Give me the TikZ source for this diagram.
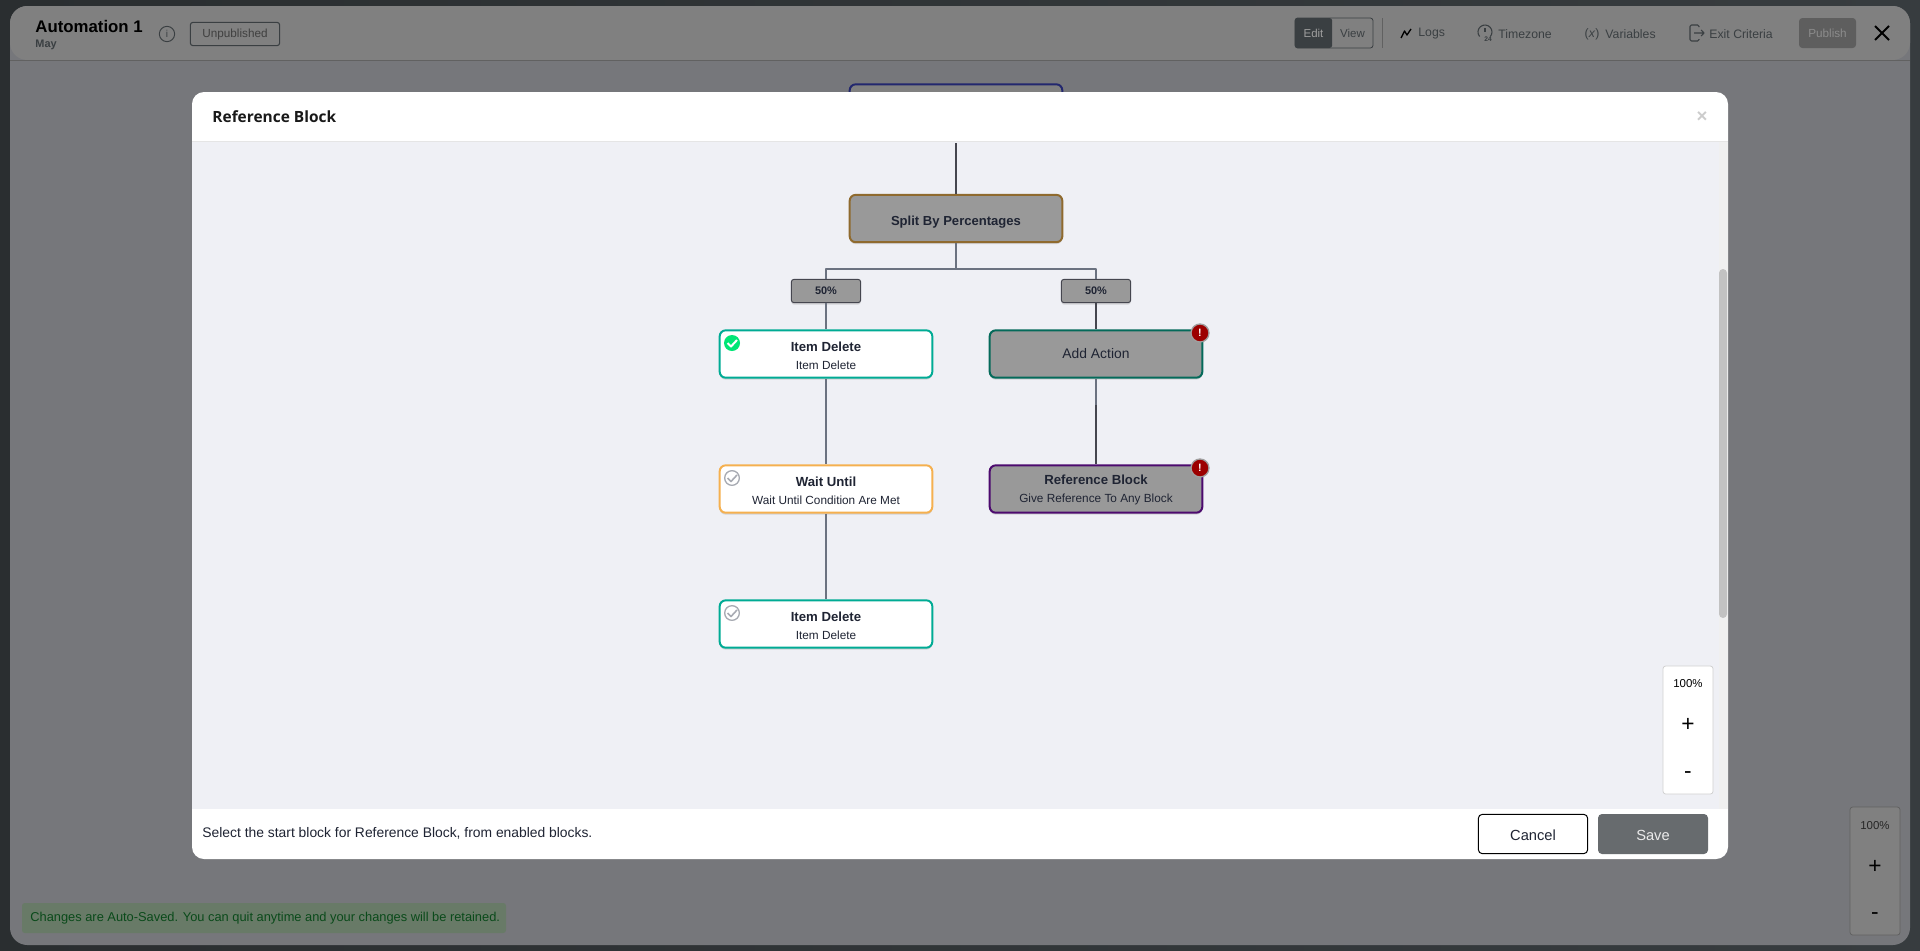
\documentclass[tikz,border=0pt]{standalone}
\usepackage{fontspec}
\setmainfont{Liberation Sans}
\newfontfamily\titlefont{Open Sans}
\usetikzlibrary{shadows}

% sizes are given in pixels of the screen, 1px = .75pt
\newcommand{\blocktext}[2]{\rule{0pt}{9.2pt}{\bfseries\fontsize{9.9}{13.5}\selectfont #1}\\{\fontsize{8.85}{13.5}\selectfont #2}}
\definecolor{inkc}{HTML}{1F2433}
\definecolor{linkc}{HTML}{6B7280}
\definecolor{linkdark}{HTML}{45464F}
\definecolor{offc}{HTML}{999999}
\definecolor{barc}{HTML}{808080}
\definecolor{maskc}{HTML}{76777B}
\definecolor{toolc}{HTML}{3A3F42}
\definecolor{canvasc}{HTML}{EFF0F5}
\definecolor{savec}{HTML}{676B6E}
\definecolor{splitc}{HTML}{8F6A2E}
\definecolor{itemc}{HTML}{00AB94}
\definecolor{waitc}{HTML}{F5B04F}
\definecolor{addc}{HTML}{046A5A}
\definecolor{refc}{HTML}{4C0A6E}
\definecolor{firstc}{HTML}{22276E}
\definecolor{doneg}{HTML}{00E676}
\definecolor{todog}{HTML}{A8ABB3}
\definecolor{warnr}{HTML}{9C0000}
\definecolor{warng}{HTML}{A0A0A0}
\definecolor{darkl}{HTML}{2A2E30}
\definecolor{darkr}{HTML}{373C3F}
\definecolor{toastc}{HTML}{687A67}
\definecolor{toastt}{HTML}{0A4A1A}

\begin{document}
\begin{tikzpicture}[x=.75pt,y=-.75pt,line join=round,node distance=101.25pt,semithick]
          \tikzstyle{block}=[draw,rounded corners=4.5pt,line width=1.5pt,minimum width=159.5pt,minimum height=35.5pt,inner sep=0pt,align=center,text=inkc,font=\fontsize{10}{13.5}\selectfont,
                             drop shadow={shadow xshift=0pt,shadow yshift=-1.5pt,opacity=.25}]
          \tikzstyle{live}=[block,fill=white]
          \tikzstyle{off}=[block,fill=offc]
          \tikzstyle{pct}=[draw=linkdark,fill=offc,rounded corners=2pt,line width=.75pt,minimum width=52pt,minimum height=17.5pt,inner sep=0pt,text=inkc,font=\fontsize{8.2}{10}\selectfont\bfseries,
                           drop shadow={shadow xshift=0pt,shadow yshift=-1.5pt,opacity=.25}]
          \tikzstyle{link}=[draw=linkc,line width=1.3pt]
          \tikzstyle{linkd}=[draw=linkdark,line width=1.3pt]
          \tikzstyle{tool}=[anchor=west,inner sep=0pt,text=toolc,font=\fontsize{9.2}{11}\selectfont]
          \tikzstyle{done}=[circle,fill=doneg,minimum size=12pt,inner sep=0pt]
          \tikzstyle{todo}=[circle,draw=todog,line width=1pt,fill=white,minimum size=11pt,inner sep=0pt]
          \tikzstyle{warn}=[circle,fill=warnr,draw=warng,line width=1pt,text=white,minimum size=13.5pt,inner sep=0pt,font=\fontsize{8}{9}\selectfont\bfseries]
          \tikzstyle{zoombox}=[rounded corners=2pt,line width=.6pt,minimum width=37.5pt,minimum height=96pt,inner sep=0pt]
          \tikzstyle{zoomsign}=[inner sep=0pt,text=black,font=\fontsize{17}{18}\selectfont]

          % page behind the dialog
          \useasboundingbox (0,0) rectangle (1920,950);
          \fill[left color=darkl,right color=darkr] (0,0) rectangle (1920,950);
          \fill[maskc,rounded corners=13pt] (10,6) rectangle (1910,945);
          \fill[barc,rounded corners=13pt] (10,60) -- (10,6) -- (1910,6) -- (1910,60) -- cycle;
          \draw[black!62,line width=.75pt] (10,60) -- (1910,60);
          \node[anchor=west,inner sep=0pt,text=black,font=\fontsize{12.6}{14}\selectfont\bfseries] (name) at (35,26) {Automation 1};
          \node[anchor=west,inner sep=0pt,text=toolc,font=\fontsize{8.2}{10}\selectfont\bfseries] (month) at (35,45) {May};
          \node[circle,draw=toolc,line width=.7pt,minimum size=11.5pt,inner sep=0pt,text=toolc,font=\fontsize{7.5}{8}\selectfont] (info) at (167,34) {i};
          \node[draw=toolc,rounded corners=2pt,line width=.8pt,minimum width=67pt,minimum height=17.5pt,inner sep=0pt,text=black!75,font=\fontsize{8.8}{10}\selectfont] (state) at (235,34) {Unpublished};
          \node[draw=toolc,minimum width=58.5pt,minimum height=22.5pt,inner sep=0pt,rounded corners=2pt] (switch) at (1334,33) {};
          \node[fill=toolc,minimum width=28pt,minimum height=22.5pt,inner sep=0pt,rounded corners=2pt,text=black!38,font=\fontsize{8.6}{10}\selectfont] (edit) at (1313.5,33) {Edit};
          \node[inner sep=0pt,text=toolc,font=\fontsize{8.6}{10}\selectfont] (view) at (1352.5,33) {View};
          \draw[black!62,line width=.6pt] (1382,18) -- (1382,48);
          \node[tool] (logs) at (1418,34) {Logs};
          \draw[black,line width=1pt] (1401,38) -- (1404.5,31) -- (1407,35) -- (1411,29);
          \node[tool] (zone) at (1498,34) {Timezone};
          \draw[toolc,line width=.8pt] (1479.6,36.5) arc (140:400:7);
          \draw[toolc,line width=.8pt] (1485,28) -- (1485,32);
          \node[inner sep=0pt,text=toolc,font=\fontsize{5}{5}\selectfont\bfseries] (hours) at (1488,39) {24};
          \node[tool] (vars) at (1605,34) {Variables};
          \node[inner sep=0pt,text=toolc,font=\fontsize{9.2}{11}\selectfont] (varsign) at (1592,34) {(\textit{x})};
          \node[tool] (exit) at (1709,34) {Exit Criteria};
          \draw[toolc,line width=.8pt,rounded corners=1pt] (1699,27) -- (1699,25) -- (1690,25) -- (1690,41) -- (1699,41) -- (1699,39);
          \draw[toolc,line width=.8pt] (1694,33) -- (1704,33) (1701,30) -- (1704,33) -- (1701,36);
          \node[fill=black!63,rounded corners=2.5pt,minimum width=42.75pt,minimum height=22.5pt,inner sep=0pt,text=black!45,font=\fontsize{8.8}{10}\selectfont] (publish) at (1827.5,33) {Publish};
          \draw[black,line width=1.4pt] (1875,26) -- (1889,40) (1889,26) -- (1875,40);
          \node[draw=black!62,zoombox,fill=barc] (zoomout) at (1875,871) {};
          \node[inner sep=0pt,text=black!85,font=\fontsize{8.6}{10}\selectfont] (zoomouta) at (1875,825.5) {100\%};
          \node[zoomsign] (zoomoutb) at (1875,867) {+};
          \node[zoomsign] (zoomoutc) at (1875,916) {-};
          \node[fill=toastc,rounded corners=2pt,minimum width=363pt,minimum height=22.5pt,inner sep=0pt] (toast) at (264,918) {};
          \node[anchor=west,inner sep=0pt,text=toastt,font=\fontsize{9.63}{11}\selectfont] (toasttext) at (30,918.5) {Changes are Auto-Saved. You can quit anytime and your changes will be retained.};

          % the block that the dialog hides
          \node[draw=firstc,fill=barc,rounded corners=4.5pt,line width=1.5pt,minimum width=159.5pt,minimum height=35.5pt] (first) at (956,108) {};

          % dialog
          \fill[white,rounded corners=9pt] (192,92) rectangle (1728,859);
          \fill[canvasc] (192,141) rectangle (1728,809);
          \draw[black!10,line width=.75pt] (192,141) -- (1728,141);
          \fill[black!6] (1719,142) rectangle (1728,809);
          \fill[black!24,rounded corners=3pt] (1719,269) rectangle (1727,618);
          \node[anchor=west,inner sep=0pt,text=black!90,font=\titlefont\fontsize{11.6}{14}\selectfont\bfseries] (title) at (212,117) {Reference Block};
          \node[inner sep=0pt,text=black!20,font=\fontsize{14}{15}\selectfont\bfseries] (quit) at (1702,117) {×};
          \node[anchor=west,inner sep=0pt,text=inkc,font=\fontsize{10.4}{12}\selectfont] (hint) at (202,833.5) {Select the start block for Reference Block, from enabled blocks.};
          \node[draw=black,rounded corners=3pt,line width=.75pt,fill=white,minimum width=82pt,minimum height=29.5pt,inner sep=0pt,text=inkc,font=\fontsize{11}{13}\selectfont] (cancel) at (1533,834) {\rule{0pt}{10pt}Cancel};
          \node[fill=savec,rounded corners=3pt,minimum width=82.5pt,minimum height=30pt,inner sep=0pt,text=white!92!black,font=\fontsize{11}{13}\selectfont] (save) at (1653,834) {\rule{0pt}{10pt}Save};
          \node[draw=black!18,fill=white,zoombox] (zoomin) at (1688,730) {};
          \node[inner sep=0pt,text=black,font=\fontsize{8.6}{10}\selectfont] (zoomina) at (1688,684) {100\%};
          \node[zoomsign] (zoominb) at (1688,725) {+};
          \node[zoomsign] (zoominc) at (1688,775) {-};

          % blocks
          \node[off,draw=splitc,font=\fontsize{9.8}{13}\selectfont\bfseries] (split) at (956,218.5) {\rule{0pt}{12.7pt}Split By Percentages};
          \node[live,draw=itemc]                         (itemA) at (826,354)   {\blocktext{Item Delete}{Item Delete}};
          \node[live,draw=waitc]                         (waitA) [below of=itemA] {\blocktext{Wait Until}{Wait Until Condition Are Met}};
          \node[live,draw=itemc]                         (itemB) [below of=waitA] {\blocktext{Item Delete}{Item Delete}};
          \node[off,draw=addc,font=\fontsize{10.4}{13}\selectfont] (addA) at (1096,354) {Add Action};
          \node[off,draw=refc]                           (refA)  [below of=addA] {\blocktext{Reference Block}{Give Reference To Any Block}};
          \node[pct]                                     (pctA)  at (826,291)   {50\%};
          \node[pct]                                     (pctB)  at (1096,291)  {50\%};

          % connectors
          \coordinate (up)   at (956,143);
          \coordinate (fork) at (956,269);
          \coordinate (kink) at (1096,405);
          \path[linkd] (up) edge (split);
          \path[link]  (split) edge (fork);
          \draw[link]  (fork) -| (pctA);
          \draw[link]  (fork) -| (pctB);
          \path[link]  (pctA)  edge (itemA)
                       (itemA) edge (waitA)
                       (waitA) edge (itemB)
                       (addA)  edge (kink);
          \path[linkd] (pctB)  edge (addA)
                       (kink)  edge (refA);

          % marks on the blocks
          \node[done] (markA) at (732,343) {};
          \node[todo] (markB) at (732,478) {};
          \node[todo] (markC) at (732,613) {};
          \draw[white,line width=1.5pt] ([shift={(-4.5,0)}]markA.center) -- ++(3.5,3.5) -- ++(6,-6.5);
          \draw[todog,line width=1.2pt] ([shift={(-4.5,0)}]markB.center) -- ++(3.5,3.5) -- ++(6,-6.5);
          \draw[todog,line width=1.2pt] ([shift={(-4.5,0)}]markC.center) -- ++(3.5,3.5) -- ++(6,-6.5);
          \node[warn] (warnA) at (1200,333) {!};
          \node[warn] (warnB) at (1200,468) {!};
        \end{tikzpicture}
\end{document}
